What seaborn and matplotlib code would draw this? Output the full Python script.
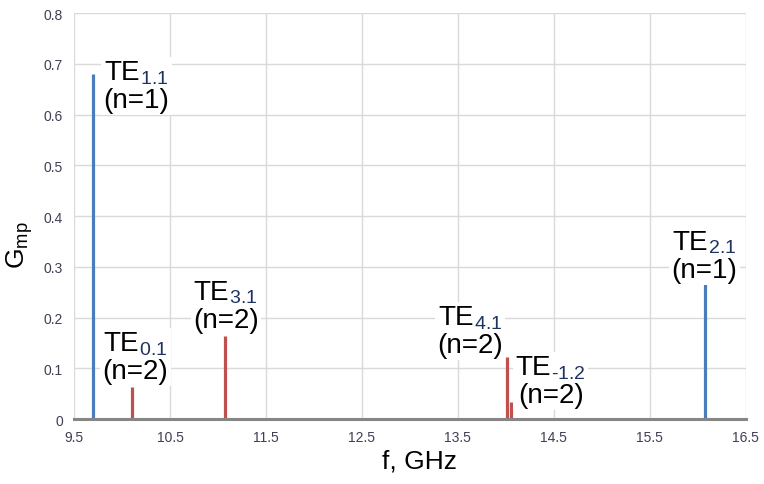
import matplotlib
matplotlib.use("Agg")
import matplotlib.pyplot as plt
from matplotlib.offsetbox import TextArea, HPacker, VPacker, AnnotationBbox
import seaborn as sns
import pandas as pd

# Mode spectrum: frequency (GHz), coupling coefficient, harmonic number
freq_ghz = [9.70, 10.10, 11.07, 14.01, 14.05, 16.08]
g_mp = [0.68, 0.063, 0.164, 0.122, 0.034, 0.268]
harmonic = [1, 2, 2, 2, 2, 1]

# Mode labels: subscript, harmonic, label centre (f, G)
label_sub = ["1.1", "0.1", "3.1", "4.1", "\u20101.2", "2.1"]
label_n = [1, 2, 2, 2, 2, 1]
label_xy = [(10.15, 0.656), (10.14, 0.122), (11.08, 0.223),
            (13.63, 0.173), (14.47, 0.075), (16.07, 0.322)]

x_ticks = [9.5, 10.5, 11.5, 12.5, 13.5, 14.5, 15.5, 16.5]
y_ticks = [0, 0.1, 0.2, 0.3, 0.4, 0.5, 0.6, 0.7, 0.8]

sns.set_theme(style="whitegrid")
plt.rcParams["font.family"] = ["Liberation Sans", "DejaVu Sans"]
plt.rcParams["mathtext.fontset"] = "custom"
plt.rcParams["mathtext.rm"] = "Liberation Sans"
plt.rcParams["mathtext.it"] = "Liberation Sans"
plt.rcParams["mathtext.default"] = "regular"

df = pd.DataFrame({"f": freq_ghz, "G": g_mp, "n": harmonic})
palette = {1: "#4a7ebb", 2: "#c0504d"}

fig = plt.figure(figsize=(7.64, 4.85), dpi=100)
ax = fig.add_axes([0.097, 0.134, 0.879, 0.837])

for n, grp in df.groupby("n"):
    ax.vlines(grp["f"], 0, grp["G"], color=palette[n], linewidth=2.3, zorder=3)

ax.set_xlim(9.5, 16.5)
ax.set_ylim(0, 0.8)
ax.set_xticks(x_ticks)
ax.set_yticks(y_ticks)
ax.set_xticklabels([f"{v:g}" for v in x_ticks])
ax.set_yticklabels([f"{v:g}" for v in y_ticks])
ax.tick_params(axis="both", labelsize=10, labelcolor="#3f3f55",
               length=4, width=1, color="#d0d0d0", pad=4)
ax.tick_params(axis="x", color="#a0a0a0")
ax.grid(True, color="#d9d9d9", linewidth=1.0)
for side in ["top", "right", "left"]:
    ax.spines[side].set_visible(False)
ax.spines["bottom"].set_color("#868686")
ax.spines["bottom"].set_linewidth(2.2)
ax.spines["bottom"].set_zorder(4)

ax.set_xlabel("f, GHz", fontsize=19, color="black")
ax.xaxis.set_label_coords(0.515, -0.072)
ax.set_ylabel("G$_{mp}$", fontsize=19, color="black")
ax.yaxis.set_label_coords(-0.058, 0.43)

label_font = 20
for sub, n, (lx, ly) in zip(label_sub, label_n, label_xy):
    te = TextArea("TE", textprops=dict(fontsize=label_font, color="black"))
    idx = TextArea(f"$_{{{sub}}}$",
                   textprops=dict(fontsize=label_font, color="#1f3260"))
    line1 = HPacker(children=[te, idx], align="baseline", pad=0, sep=0)
    line2 = TextArea(f"(n={n})", textprops=dict(fontsize=label_font, color="black"))
    box = VPacker(children=[line1, line2], align="center", pad=0, sep=1)
    ab = AnnotationBbox(box, (lx, ly), xycoords="data", box_alignment=(0.5, 0.5),
                        frameon=True, pad=0.15, zorder=5,
                        bboxprops=dict(facecolor="white", edgecolor="none"))
    ax.add_artist(ab)

fig.savefig("out.png", dpi=100)
